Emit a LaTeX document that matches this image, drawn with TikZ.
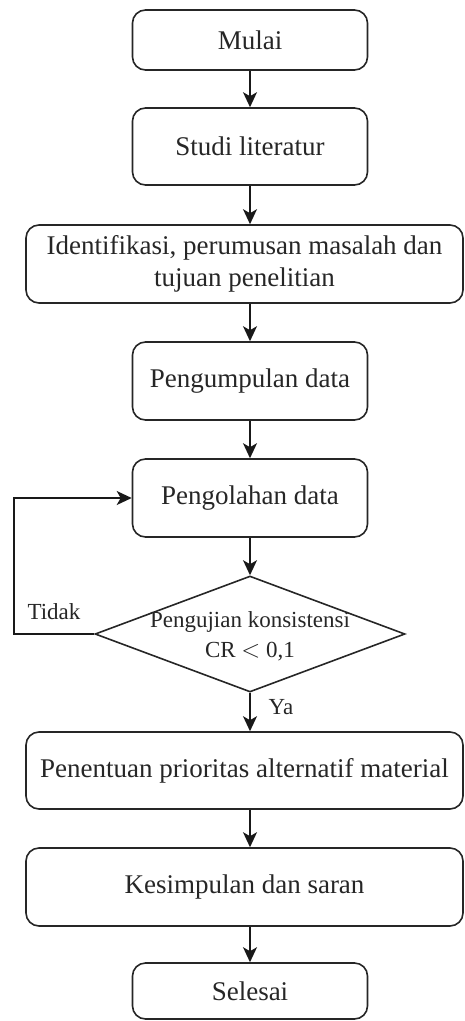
\documentclass[tikz,border=0pt]{standalone}
\usepackage{fontspec}
\setmainfont{Liberation Serif}
\usetikzlibrary{arrows.meta,positioning,shapes.geometric}

\begin{document}
\begin{tikzpicture}[x=1pt,y=-1pt,
    proc/.style={rectangle,rounded corners=13pt,draw=black!85,line width=1.6pt,
      minimum width=235pt,minimum height=77pt,inner sep=0pt,align=center,
      font=\fontsize{27}{32}\selectfont},
    wide/.style={proc,minimum width=437pt},
    decision/.style={diamond,draw=black!85,line width=1.6pt,inner sep=0pt,
      minimum width=310pt,minimum height=116pt},
    arr/.style={line width=1.5pt,draw=black!90,-{Stealth[length=15pt,width=14pt,inset=4pt]}}]
  \useasboundingbox (0,0) rectangle (464,1021);
  \begin{scope}[every node/.append style={text=black!85}]
    \node[proc,minimum height=60pt] (mulai) at (250,40) {Mulai};
    \node[proc] (studi) at (250,146.5) {Studi literatur};
    \node[wide,minimum height=78pt] (ident) at (244.5,264)
      {Identifikasi, perumusan masalah dan\\tujuan penelitian};
    \node[proc,minimum height=78pt] (kumpul) at (250,381) {Pengumpulan data};
    \node[proc,minimum height=78pt] (olah) at (250,498) {Pengolahan data};
    \node[decision] (uji) at (250,634) {};
    \node[align=center,inner sep=0pt,font=\fontsize{23}{30}\selectfont] (ujitxt) at (250,636)
      {Pengujian konsistensi\\CR $<$ 0,1};
    \node[wide] (tentu) at (244.5,770.5) {Penentuan prioritas alternatif material};
    \node[wide,minimum height=78pt] (simpul) at (244.5,887) {Kesimpulan dan saran};
    \node[proc,minimum height=56pt] (selesai) at (250,991) {Selesai};
    \node[inner sep=0pt,font=\fontsize{23}{28}\selectfont] (tidak) at (54,612) {Tidak};
    \node[inner sep=0pt,font=\fontsize{23}{28}\selectfont] (ya) at (281,707) {Ya};
  \end{scope}
  \begin{scope}[every edge/.style={arr}]
    \path (mulai) edge (studi);
    \path (studi.south) edge (studi.south |- ident.north);
    \path (kumpul.south |- ident.south) edge (kumpul.north);
    \path (kumpul) edge (olah);
    \path (olah) edge (uji.north);
    \path (uji.south) edge (uji.south |- tentu.north);
    \path (uji.south |- tentu.south) edge (uji.south |- simpul.north);
    \path (uji.south |- simpul.south) edge (selesai.north);
  \end{scope}
  \draw[arr] (uji.west) -- ++(-80,0) |- (olah.west);
\end{tikzpicture}
\end{document}
